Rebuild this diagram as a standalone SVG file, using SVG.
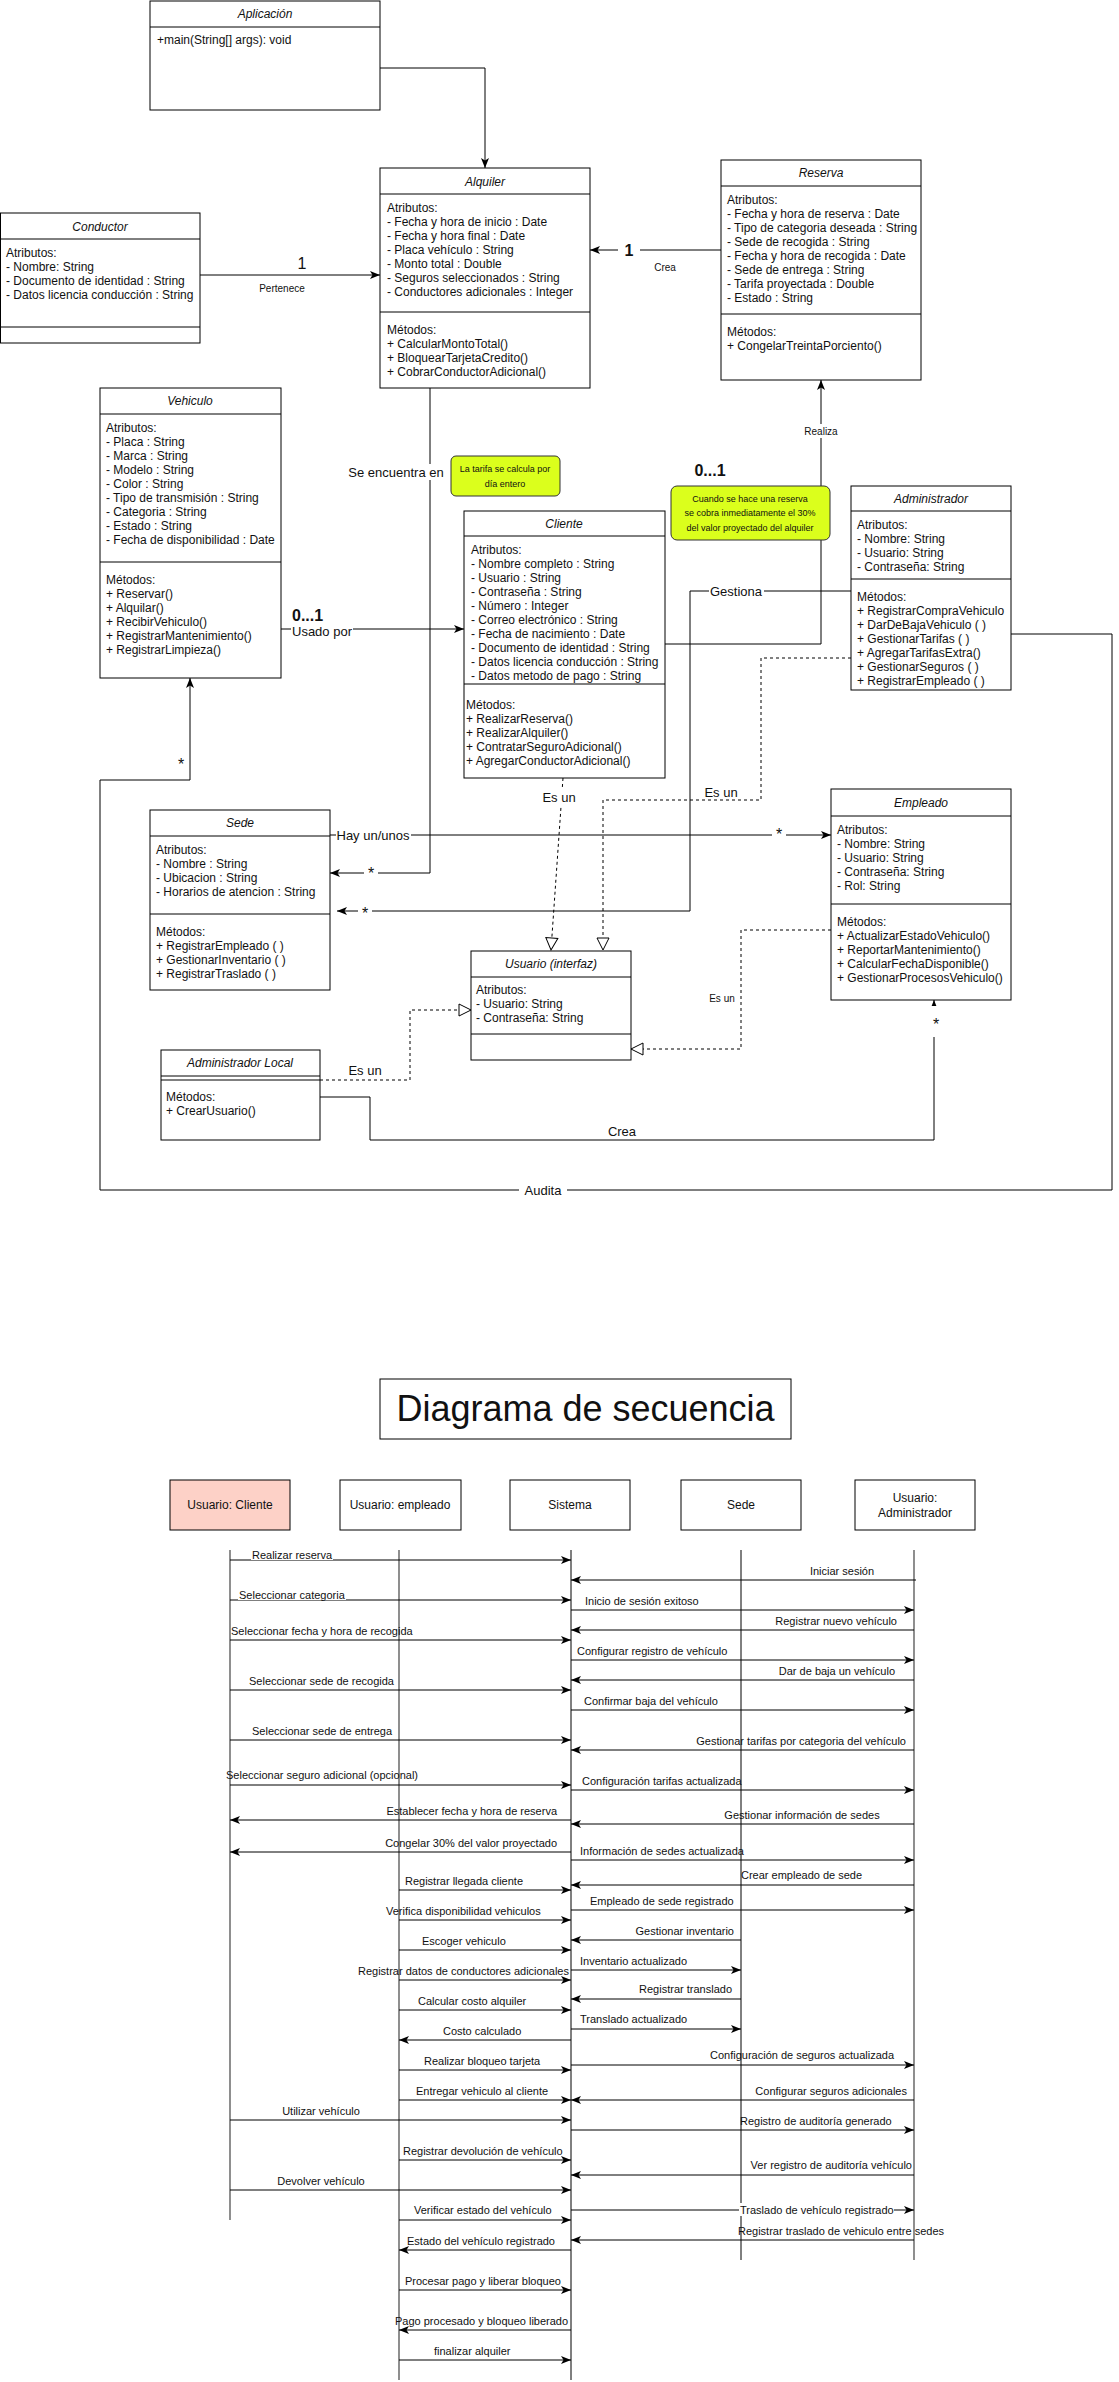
<svg xmlns="http://www.w3.org/2000/svg" width="1119" height="2382" viewBox="0 0 1119 2382">
<style>
.box{fill:#fff;stroke:#000;stroke-width:1}
.ln{stroke:#000;stroke-width:1}
.c{fill:none;stroke:#000;stroke-width:1}
.d{fill:none;stroke:#000;stroke-width:1;stroke-dasharray:3,3}
.t{font-family:"Liberation Sans",Arial,sans-serif;font-size:12px;fill:#111}
.ti{font-family:"Liberation Sans",Arial,sans-serif;font-size:12px;font-style:italic;fill:#111;text-anchor:middle}
.lb{font-family:"Liberation Sans",Arial,sans-serif;font-size:13px;fill:#111}
.sm{font-family:"Liberation Sans",Arial,sans-serif;font-size:10px;fill:#111}
.big{font-family:"Liberation Sans",Arial,sans-serif;font-size:16px;fill:#111}
.bb{font-family:"Liberation Sans",Arial,sans-serif;font-size:16px;font-weight:bold;fill:#111}
.nt{font-family:"Liberation Sans",Arial,sans-serif;font-size:9px;fill:#111;text-anchor:middle}
.note{fill:#dbff1c;stroke:#333;stroke-width:1}
.m{font-family:"Liberation Sans",Arial,sans-serif;font-size:11px;fill:#111}
.bg{fill:#fff}
.life{stroke:#444;stroke-width:1.2}
.msg{stroke:#000;stroke-width:1;fill:none}
</style>
<defs>
<marker id="ar" viewBox="0 0 10 8" markerWidth="10" markerHeight="8" refX="10" refY="4" orient="auto" markerUnits="userSpaceOnUse"><path d="M0,0 L10,4 L0,8 L2.5,4 z" fill="#000"/></marker>
<marker id="tri" viewBox="0 0 14 14" markerWidth="14" markerHeight="14" refX="13" refY="7" orient="auto" markerUnits="userSpaceOnUse"><path d="M1,1 L13,7 L1,13 z" fill="#fff" stroke="#000"/></marker>
</defs>
<rect width="1119" height="2382" fill="#fff"/>

<!-- connectors -->
<g id="connectors">
<path class="c" d="M380,68 H485 V168" marker-end="url(#ar)"/>
<path class="c" d="M200,275 H380" marker-end="url(#ar)"/>
<path class="c" d="M721,250 H590" marker-end="url(#ar)"/>
<path class="c" d="M665,644 H821 V380" marker-end="url(#ar)"/>
<path class="c" d="M281,629 H464" marker-end="url(#ar)"/>
<path class="c" d="M430,388 V873 H330" marker-end="url(#ar)"/>
<path class="c" d="M851,591 H690 V911 H337" marker-end="url(#ar)"/>
<path class="c" d="M1011,634 H1112 V1190 H100 V780 H190 V678" marker-end="url(#ar)"/>
<path class="d" d="M851,658 H761 V800 H603 V950" marker-end="url(#tri)"/>
<path class="d" d="M563,778 L551,950" marker-end="url(#tri)"/>
<path class="c" d="M330,835 H831" marker-end="url(#ar)"/>
<path class="d" d="M831,930 H741 V1049 H631" marker-end="url(#tri)"/>
<path class="d" d="M320,1080 H410 V1010 H471" marker-end="url(#tri)"/>
<path class="c" d="M320,1097 H370 V1140 H934 V1000" marker-end="url(#ar)"/>
<!-- labels -->
<text class="big" x="302" y="269" text-anchor="middle">1</text>
<text class="sm" x="282" y="292" text-anchor="middle">Pertenece</text>
<rect class="bg" x="618" y="240" width="22" height="20"/>
<text class="bb" x="629" y="256" text-anchor="middle">1</text>
<text class="sm" x="665" y="271" text-anchor="middle">Crea</text>
<rect class="bg" x="803" y="424" width="36" height="14"/>
<text class="sm" x="821" y="435" text-anchor="middle">Realiza</text>
<text class="bb" x="710" y="476" text-anchor="middle">0...1</text>
<text class="bb" x="292" y="621">0...1</text>
<rect class="bg" x="291" y="624" width="62" height="14"/>
<text class="lb" x="292" y="636">Usado por</text>
<rect class="bg" x="347" y="464" width="99" height="16"/>
<text class="lb" x="396" y="477" text-anchor="middle">Se encuentra en</text>
<rect class="bg" x="364" y="862" width="14" height="14"/>
<text class="big" x="371" y="879" text-anchor="middle">*</text>
<rect class="bg" x="709" y="583" width="55" height="16"/>
<text class="lb" x="736" y="596" text-anchor="middle">Gestiona</text>
<rect class="bg" x="358" y="902" width="14" height="14"/>
<text class="big" x="365" y="919" text-anchor="middle">*</text>
<rect class="bg" x="519" y="1182" width="48" height="16"/>
<text class="lb" x="543" y="1195" text-anchor="middle">Audita</text>
<text class="big" x="181" y="770" text-anchor="middle">*</text>
<rect class="bg" x="541" y="789" width="36" height="16"/>
<text class="lb" x="559" y="802" text-anchor="middle">Es un</text>
<text class="lb" x="721" y="797" text-anchor="middle">Es un</text>
<rect class="bg" x="336" y="827" width="75" height="16"/>
<text class="lb" x="373" y="840" text-anchor="middle">Hay un/unos</text>
<rect class="bg" x="772" y="826" width="14" height="14"/>
<text class="big" x="779" y="840" text-anchor="middle">*</text>
<text class="sm" x="722" y="1002" text-anchor="middle">Es un</text>
<text class="lb" x="365" y="1075" text-anchor="middle">Es un</text>
<rect class="bg" x="928" y="1006" width="16" height="31"/>
<text class="big" x="936" y="1030" text-anchor="middle">*</text>
<text class="lb" x="622" y="1136" text-anchor="middle">Crea</text>
</g>

<!-- notes -->
<g id="note-tarifa">
<rect class="note" x="451" y="456" width="109" height="40" rx="5"/>
<text class="nt" x="505" y="472">La tarifa se calcula por</text>
<text class="nt" x="505" y="487">día entero</text>
</g>
<g id="note-reserva">
<rect class="note" x="671" y="486" width="159" height="54" rx="6"/>
<text class="nt" x="750" y="502">Cuando se hace una reserva</text>
<text class="nt" x="750" y="516">se cobra inmediatamente el 30%</text>
<text class="nt" x="750" y="531">del valor proyectado del alquiler</text>
</g>

<!-- class nodes -->
<g id="aplicacion">
<rect class="box" x="150" y="1" width="230" height="109"/>
<line class="ln" x1="150" y1="27" x2="380" y2="27"/>
<text class="ti" x="265" y="18">Aplicación</text>
<text class="t" x="157" y="44">+main(String[] args): void</text>
</g>

<g id="alquiler">
<rect class="box" x="380" y="168" width="210" height="220"/>
<line class="ln" x1="380" y1="194" x2="590" y2="194"/>
<line class="ln" x1="380" y1="312" x2="590" y2="312"/>
<text class="ti" x="485" y="186">Alquiler</text>
<text class="t" x="387" y="212">Atributos:<tspan x="387" dy="14">- Fecha y hora de inicio : Date</tspan><tspan x="387" dy="14">- Fecha y hora final : Date</tspan><tspan x="387" dy="14">- Placa vehículo : String</tspan><tspan x="387" dy="14">- Monto total : Double</tspan><tspan x="387" dy="14">- Seguros seleccionados : String</tspan><tspan x="387" dy="14">- Conductores adicionales : Integer</tspan></text>
<text class="t" x="387" y="334">Métodos:<tspan x="387" dy="14">+ CalcularMontoTotal()</tspan><tspan x="387" dy="14">+ BloquearTarjetaCredito()</tspan><tspan x="387" dy="14">+ CobrarConductorAdicional()</tspan></text>
</g>

<g id="conductor">
<rect class="box" x="0.5" y="213" width="199.5" height="130"/>
<line class="ln" x1="0" y1="239" x2="200" y2="239"/>
<line class="ln" x1="0" y1="327" x2="200" y2="327"/>
<text class="ti" x="100" y="231">Conductor</text>
<text class="t" x="6" y="257">Atributos:<tspan x="6" dy="14">- Nombre: String</tspan><tspan x="6" dy="14">- Documento de identidad : String</tspan><tspan x="6" dy="14">- Datos licencia conducción : String</tspan></text>
</g>

<g id="reserva">
<rect class="box" x="721" y="160" width="200" height="220"/>
<line class="ln" x1="721" y1="186" x2="921" y2="186"/>
<line class="ln" x1="721" y1="314" x2="921" y2="314"/>
<text class="ti" x="821" y="177">Reserva</text>
<text class="t" x="727" y="204">Atributos:<tspan x="727" dy="14">- Fecha y hora de reserva : Date</tspan><tspan x="727" dy="14">- Tipo de categoria deseada : String</tspan><tspan x="727" dy="14">- Sede de recogida : String</tspan><tspan x="727" dy="14">- Fecha y hora de recogida : Date</tspan><tspan x="727" dy="14">- Sede de entrega : String</tspan><tspan x="727" dy="14">- Tarifa proyectada : Double</tspan><tspan x="727" dy="14">- Estado : String</tspan></text>
<text class="t" x="727" y="336">Métodos:<tspan x="727" dy="14">+ CongelarTreintaPorciento()</tspan></text>
</g>

<g id="vehiculo">
<rect class="box" x="100" y="388" width="181" height="290"/>
<line class="ln" x1="100" y1="414" x2="281" y2="414"/>
<line class="ln" x1="100" y1="562" x2="281" y2="562"/>
<text class="ti" x="190" y="405">Vehiculo</text>
<text class="t" x="106" y="432">Atributos:<tspan x="106" dy="14">- Placa : String</tspan><tspan x="106" dy="14">- Marca : String</tspan><tspan x="106" dy="14">- Modelo : String</tspan><tspan x="106" dy="14">- Color : String</tspan><tspan x="106" dy="14">- Tipo de transmisión : String</tspan><tspan x="106" dy="14">- Categoria : String</tspan><tspan x="106" dy="14">- Estado : String</tspan><tspan x="106" dy="14">- Fecha de disponibilidad : Date</tspan></text>
<text class="t" x="106" y="584">Métodos:<tspan x="106" dy="14">+ Reservar()</tspan><tspan x="106" dy="14">+ Alquilar()</tspan><tspan x="106" dy="14">+ RecibirVehiculo()</tspan><tspan x="106" dy="14">+ RegistrarMantenimiento()</tspan><tspan x="106" dy="14">+ RegistrarLimpieza()</tspan></text>
</g>

<g id="cliente">
<rect class="box" x="464" y="511" width="201" height="267"/>
<line class="ln" x1="464" y1="536" x2="665" y2="536"/>
<line class="ln" x1="464" y1="684" x2="665" y2="684"/>
<text class="ti" x="564" y="528">Cliente</text>
<text class="t" x="471" y="554">Atributos:<tspan x="471" dy="14">- Nombre completo : String</tspan><tspan x="471" dy="14">- Usuario : String</tspan><tspan x="471" dy="14">- Contraseña : String</tspan><tspan x="471" dy="14">- Número : Integer</tspan><tspan x="471" dy="14">- Correo electrónico : String</tspan><tspan x="471" dy="14">- Fecha de nacimiento : Date</tspan><tspan x="471" dy="14">- Documento de identidad : String</tspan><tspan x="471" dy="14">- Datos licencia conducción : String</tspan><tspan x="471" dy="14">- Datos metodo de pago : String</tspan></text>
<text class="t" x="466" y="709">Métodos:<tspan x="466" dy="14">+ RealizarReserva()</tspan><tspan x="466" dy="14">+ RealizarAlquiler()</tspan><tspan x="466" dy="14">+ ContratarSeguroAdicional()</tspan><tspan x="466" dy="14">+ AgregarConductorAdicional()</tspan></text>
</g>

<g id="administrador">
<rect class="box" x="851" y="486" width="160" height="204"/>
<line class="ln" x1="851" y1="511" x2="1011" y2="511"/>
<line class="ln" x1="851" y1="579" x2="1011" y2="579"/>
<text class="ti" x="931" y="503">Administrador</text>
<text class="t" x="857" y="529">Atributos:<tspan x="857" dy="14">- Nombre: String</tspan><tspan x="857" dy="14">- Usuario: String</tspan><tspan x="857" dy="14">- Contraseña: String</tspan></text>
<text class="t" x="857" y="601">Métodos:<tspan x="857" dy="14">+ RegistrarCompraVehiculo</tspan><tspan x="857" dy="14">+ DarDeBajaVehiculo ( )</tspan><tspan x="857" dy="14">+ GestionarTarifas ( )</tspan><tspan x="857" dy="14">+ AgregarTarifasExtra()</tspan><tspan x="857" dy="14">+ GestionarSeguros ( )</tspan><tspan x="857" dy="14">+ RegistrarEmpleado ( )</tspan></text>
</g>

<g id="sede">
<rect class="box" x="150" y="810" width="180" height="180"/>
<line class="ln" x1="150" y1="836" x2="330" y2="836"/>
<line class="ln" x1="150" y1="914" x2="330" y2="914"/>
<text class="ti" x="240" y="827">Sede</text>
<text class="t" x="156" y="854">Atributos:<tspan x="156" dy="14">- Nombre : String</tspan><tspan x="156" dy="14">- Ubicacion : String</tspan><tspan x="156" dy="14">- Horarios de atencion : String</tspan></text>
<text class="t" x="156" y="936">Métodos:<tspan x="156" dy="14">+ RegistrarEmpleado ( )</tspan><tspan x="156" dy="14">+ GestionarInventario ( )</tspan><tspan x="156" dy="14">+ RegistrarTraslado ( )</tspan></text>
</g>

<g id="empleado">
<rect class="box" x="831" y="789" width="180" height="211"/>
<line class="ln" x1="831" y1="816" x2="1011" y2="816"/>
<line class="ln" x1="831" y1="904" x2="1011" y2="904"/>
<text class="ti" x="921" y="807">Empleado</text>
<text class="t" x="837" y="834">Atributos:<tspan x="837" dy="14">- Nombre: String</tspan><tspan x="837" dy="14">- Usuario: String</tspan><tspan x="837" dy="14">- Contraseña: String</tspan><tspan x="837" dy="14">- Rol: String</tspan></text>
<text class="t" x="837" y="926">Métodos:<tspan x="837" dy="14">+ ActualizarEstadoVehiculo()</tspan><tspan x="837" dy="14">+ ReportarMantenimiento()</tspan><tspan x="837" dy="14">+ CalcularFechaDisponible()</tspan><tspan x="837" dy="14">+ GestionarProcesosVehiculo()</tspan></text>
</g>

<g id="usuario">
<rect class="box" x="471" y="951" width="160" height="109"/>
<line class="ln" x1="471" y1="977" x2="631" y2="977"/>
<line class="ln" x1="471" y1="1034" x2="631" y2="1034"/>
<text class="ti" x="551" y="968">Usuario (interfaz)</text>
<text class="t" x="476" y="994">Atributos:<tspan x="476" dy="14">- Usuario: String</tspan><tspan x="476" dy="14">- Contraseña: String</tspan></text>
</g>

<g id="admin-local">
<rect class="box" x="161" y="1050" width="159" height="90"/>
<line class="ln" x1="161" y1="1076" x2="320" y2="1076"/>
<line class="ln" x1="161" y1="1080" x2="320" y2="1080"/>
<text class="ti" x="240" y="1067">Administrador Local</text>
<text class="t" x="166" y="1101">Métodos:<tspan x="166" dy="14">+ CrearUsuario()</tspan></text>
</g>

<!-- sequence diagram -->
<g id="seq-title">
<rect class="box" x="380" y="1379" width="411" height="60"/>
<text x="585.5" y="1421" text-anchor="middle" font-family="Liberation Sans, Arial, sans-serif" font-size="36" fill="#111">Diagrama de secuencia</text>
</g>
<g id="ll-cliente">
<rect x="170" y="1480" width="120" height="50" fill="#fdd1c7" stroke="#000"/>
<text class="t" x="230" y="1509" text-anchor="middle">Usuario: Cliente</text>
<line class="life" x1="230" y1="1550" x2="230" y2="2220"/>
</g>
<g id="ll-empleado">
<rect class="box" x="340" y="1480" width="121" height="50"/>
<text class="t" x="400" y="1509" text-anchor="middle">Usuario: empleado</text>
<line class="life" x1="399" y1="1550" x2="399" y2="2380"/>
</g>
<g id="ll-sistema">
<rect class="box" x="510" y="1480" width="120" height="50"/>
<text class="t" x="570" y="1509" text-anchor="middle">Sistema</text>
<line class="ln" x1="571" y1="1550" x2="571" y2="2380"/>
</g>
<g id="ll-sede">
<rect class="box" x="681" y="1480" width="120" height="50"/>
<text class="t" x="741" y="1509" text-anchor="middle">Sede</text>
<line class="ln" x1="741" y1="1550" x2="741" y2="2260"/>
</g>
<g id="ll-admin">
<rect class="box" x="855" y="1480" width="120" height="50"/>
<text class="t" x="915" y="1502" text-anchor="middle">Usuario:</text>
<text class="t" x="915" y="1517" text-anchor="middle">Administrador</text>
<line class="life" x1="914" y1="1550" x2="914" y2="2260"/>
</g>

<g id="messages">
<line class="msg" x1="230" y1="1560" x2="571" y2="1560" marker-end="url(#ar)"/>
<line class="msg" x1="916" y1="1580" x2="571" y2="1580" marker-end="url(#ar)"/>
<line class="msg" x1="230" y1="1600" x2="571" y2="1600" marker-end="url(#ar)"/>
<line class="msg" x1="571" y1="1610" x2="914" y2="1610" marker-end="url(#ar)"/>
<line class="msg" x1="914" y1="1630" x2="571" y2="1630" marker-end="url(#ar)"/>
<line class="msg" x1="230" y1="1640" x2="571" y2="1640" marker-end="url(#ar)"/>
<line class="msg" x1="571" y1="1660" x2="914" y2="1660" marker-end="url(#ar)"/>
<line class="msg" x1="914" y1="1680" x2="571" y2="1680" marker-end="url(#ar)"/>
<line class="msg" x1="230" y1="1690" x2="571" y2="1690" marker-end="url(#ar)"/>
<line class="msg" x1="571" y1="1710" x2="914" y2="1710" marker-end="url(#ar)"/>
<line class="msg" x1="230" y1="1740" x2="571" y2="1740" marker-end="url(#ar)"/>
<line class="msg" x1="914" y1="1750" x2="571" y2="1750" marker-end="url(#ar)"/>
<line class="msg" x1="230" y1="1785" x2="571" y2="1785" marker-end="url(#ar)"/>
<line class="msg" x1="571" y1="1790" x2="914" y2="1790" marker-end="url(#ar)"/>
<line class="msg" x1="571" y1="1820" x2="230" y2="1820" marker-end="url(#ar)"/>
<line class="msg" x1="914" y1="1824" x2="571" y2="1824" marker-end="url(#ar)"/>
<line class="msg" x1="571" y1="1852" x2="230" y2="1852" marker-end="url(#ar)"/>
<line class="msg" x1="571" y1="1860" x2="914" y2="1860" marker-end="url(#ar)"/>
<line class="msg" x1="914" y1="1885" x2="571" y2="1885" marker-end="url(#ar)"/>
<line class="msg" x1="399" y1="1890" x2="571" y2="1890" marker-end="url(#ar)"/>
<line class="msg" x1="571" y1="1910" x2="914" y2="1910" marker-end="url(#ar)"/>
<line class="msg" x1="399" y1="1920" x2="571" y2="1920" marker-end="url(#ar)"/>
<line class="msg" x1="741" y1="1940" x2="571" y2="1940" marker-end="url(#ar)"/>
<line class="msg" x1="399" y1="1950" x2="571" y2="1950" marker-end="url(#ar)"/>
<line class="msg" x1="571" y1="1970" x2="741" y2="1970" marker-end="url(#ar)"/>
<line class="msg" x1="399" y1="1980" x2="571" y2="1980" marker-end="url(#ar)"/>
<line class="msg" x1="741" y1="1999" x2="571" y2="1999" marker-end="url(#ar)"/>
<line class="msg" x1="399" y1="2010" x2="571" y2="2010" marker-end="url(#ar)"/>
<line class="msg" x1="571" y1="2029" x2="741" y2="2029" marker-end="url(#ar)"/>
<line class="msg" x1="571" y1="2040" x2="399" y2="2040" marker-end="url(#ar)"/>
<line class="msg" x1="571" y1="2065" x2="914" y2="2065" marker-end="url(#ar)"/>
<line class="msg" x1="399" y1="2070" x2="571" y2="2070" marker-end="url(#ar)"/>
<line class="msg" x1="914" y1="2100" x2="571" y2="2100" marker-end="url(#ar)"/>
<line class="msg" x1="399" y1="2100" x2="571" y2="2100" marker-end="url(#ar)"/>
<line class="msg" x1="230" y1="2120" x2="571" y2="2120" marker-end="url(#ar)"/>
<line class="msg" x1="571" y1="2130" x2="914" y2="2130" marker-end="url(#ar)"/>
<line class="msg" x1="399" y1="2160" x2="571" y2="2160" marker-end="url(#ar)"/>
<line class="msg" x1="914" y1="2175" x2="571" y2="2175" marker-end="url(#ar)"/>
<line class="msg" x1="230" y1="2190" x2="571" y2="2190" marker-end="url(#ar)"/>
<line class="msg" x1="571" y1="2210" x2="914" y2="2210" marker-end="url(#ar)"/>
<line class="msg" x1="399" y1="2220" x2="571" y2="2220" marker-end="url(#ar)"/>
<line class="msg" x1="914" y1="2240" x2="571" y2="2240" marker-end="url(#ar)"/>
<line class="msg" x1="571" y1="2250" x2="399" y2="2250" marker-end="url(#ar)"/>
<line class="msg" x1="399" y1="2290" x2="571" y2="2290" marker-end="url(#ar)"/>
<line class="msg" x1="571" y1="2330" x2="399" y2="2330" marker-end="url(#ar)"/>
<line class="msg" x1="399" y1="2360" x2="571" y2="2360" marker-end="url(#ar)"/>

<rect class="bg" x="251" y="1550" width="82" height="10"/>
<text class="m" x="252" y="1559">Realizar reserva</text>
<text class="m" x="842" y="1575" text-anchor="middle">Iniciar sesión</text>
<rect class="bg" x="238" y="1590" width="108" height="10"/>
<text class="m" x="239" y="1599">Seleccionar categoria</text>
<text class="m" x="585" y="1605">Inicio de sesión exitoso</text>
<text class="m" x="897" y="1625" text-anchor="end">Registrar nuevo vehículo</text>
<text class="m" x="231" y="1635">Seleccionar fecha y hora de recogida</text>
<text class="m" x="577" y="1655">Configurar registro de vehículo</text>
<text class="m" x="895" y="1675" text-anchor="end">Dar de baja un vehículo</text>
<text class="m" x="249" y="1685">Seleccionar sede de recogida</text>
<text class="m" x="584" y="1705">Confirmar baja del vehículo</text>
<text class="m" x="252" y="1735">Seleccionar sede de entrega</text>
<text class="m" x="906" y="1745" text-anchor="end">Gestionar tarifas por categoria del vehículo</text>
<text class="m" x="226" y="1779">Seleccionar seguro adicional (opcional)</text>
<text class="m" x="582" y="1785">Configuración tarifas actualizada</text>
<text class="m" x="557" y="1815" text-anchor="end">Establecer fecha y hora de reserva</text>
<text class="m" x="802" y="1819" text-anchor="middle">Gestionar información de sedes</text>
<text class="m" x="557" y="1847" text-anchor="end">Congelar 30% del valor proyectado</text>
<text class="m" x="580" y="1855">Información de sedes actualizada</text>
<text class="m" x="741" y="1879">Crear empleado de sede</text>
<text class="m" x="405" y="1885">Registrar llegada cliente</text>
<text class="m" x="590" y="1905">Empleado de sede registrado</text>
<text class="m" x="386" y="1915">Verifica disponibilidad vehiculos</text>
<text class="m" x="734" y="1935" text-anchor="end">Gestionar inventario</text>
<text class="m" x="422" y="1945">Escoger vehiculo</text>
<text class="m" x="580" y="1965">Inventario actualizado</text>
<text class="m" x="358" y="1975">Registrar datos de conductores adicionales</text>
<text class="m" x="732" y="1993" text-anchor="end">Registrar translado</text>
<text class="m" x="418" y="2005">Calcular costo alquiler</text>
<text class="m" x="580" y="2023">Translado actualizado</text>
<text class="m" x="443" y="2035">Costo calculado</text>
<text class="m" x="710" y="2059">Configuración de seguros actualizada</text>
<text class="m" x="424" y="2065">Realizar bloqueo tarjeta</text>
<text class="m" x="907" y="2095" text-anchor="end">Configurar seguros adicionales</text>
<text class="m" x="416" y="2095">Entregar vehiculo al cliente</text>
<text class="m" x="321" y="2115" text-anchor="middle">Utilizar vehículo</text>
<text class="m" x="740" y="2125">Registro de auditoría generado</text>
<text class="m" x="403" y="2155">Registrar devolución de vehículo</text>
<text class="m" x="912" y="2169" text-anchor="end">Ver registro de auditoría vehículo</text>
<text class="m" x="321" y="2185" text-anchor="middle">Devolver vehículo</text>
<rect class="bg" x="739" y="2203" width="155" height="13"/>
<text class="m" x="740" y="2214">Traslado de vehículo registrado</text>
<text class="m" x="414" y="2214">Verificar estado del vehículo</text>
<text class="m" x="738" y="2235">Registrar traslado de vehiculo entre sedes</text>
<text class="m" x="407" y="2245">Estado del vehículo registrado</text>
<text class="m" x="405" y="2285">Procesar pago y liberar bloqueo</text>
<text class="m" x="395" y="2325">Pago procesado y bloqueo liberado</text>
<text class="m" x="434" y="2355">finalizar alquiler</text>
</g>
</svg>
